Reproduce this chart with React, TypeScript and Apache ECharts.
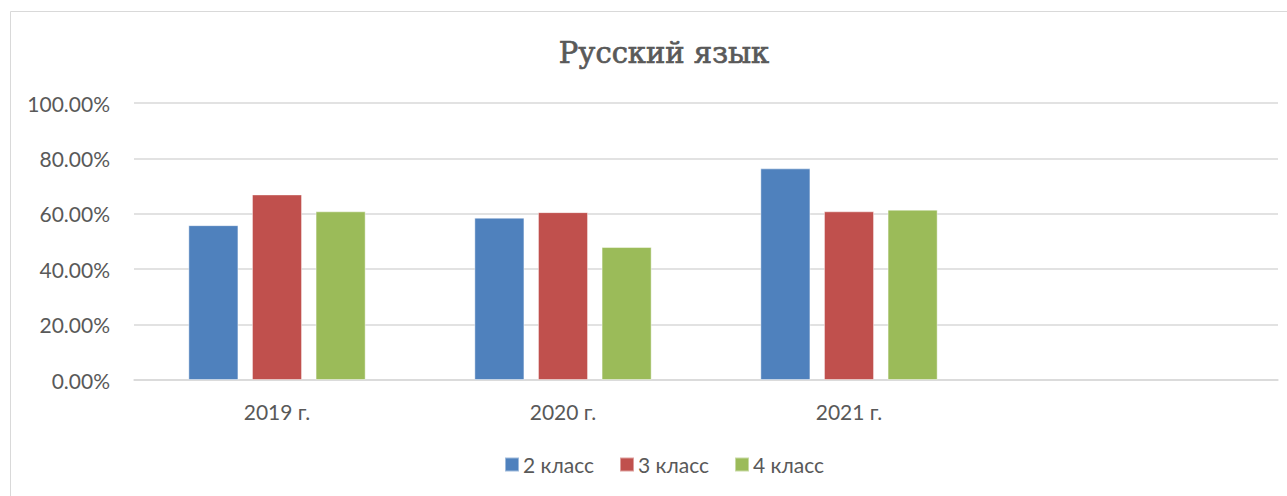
import React, { useEffect, useRef } from "react";
import * as echarts from "echarts";

const categories = ["2019 г.", "2020 г.", "2021 г.", ""];
const seriesNames = ["2 класс", "3 класс", "4 класс"];
const grade2 = [55.9, 58.6, 76.4];
const grade3 = [67.0, 60.6, 60.9];
const grade4 = [60.9, 48.0, 61.5];
const colors = ["#4F81BD", "#C0504D", "#9BBB59"];
const yTicks = { min: 0, max: 100, interval: 20 };

export default function App() {
  const ref = useRef<HTMLDivElement>(null);
  useEffect(() => {
    if (!ref.current) return;
    const chart = echarts.init(ref.current, null, { renderer: "svg" });
    const values = [grade2, grade3, grade4];
    chart.setOption({
      animation: false,
      backgroundColor: "#ffffff",
      graphic: [
        {
          type: "rect",
          shape: { x: 10.5, y: 11.5, width: 1300, height: 520 },
          style: { fill: "none", stroke: "#d9d9d9", lineWidth: 1 },
          silent: true,
          z: -1,
        },
      ],
      title: {
        text: "Русский язык",
        left: 659,
        textAlign: "center",
        top: 33,
        textStyle: {
          fontFamily: "DejaVu Serif",
          fontSize: 29,
          fontWeight: "normal",
          color: "#595959",
          textBorderColor: "#595959",
          textBorderWidth: 0.7,
        },
      },
      legend: {
        data: seriesNames,
        bottom: 16,
        left: 499,
        itemWidth: 14,
        itemHeight: 14,
        itemGap: 25,
        icon: "rect",
        textStyle: { fontFamily: "Lato", fontSize: 21, color: "#595959", padding: [0, 0, 0, -1] },
      },
      grid: { left: 134, right: 9, top: 103, bottom: 116, containLabel: false },
      xAxis: {
        type: "category",
        data: categories,
        axisLine: { lineStyle: { color: "#d9d9d9", width: 1.5 } },
        axisTick: { show: false },
        axisLabel: { fontFamily: "Lato", fontSize: 21, color: "#595959", margin: 21 },
      },
      yAxis: {
        type: "value",
        min: yTicks.min,
        max: yTicks.max,
        interval: yTicks.interval,
        axisLine: { show: false },
        axisTick: { show: false },
        splitLine: { lineStyle: { color: "#d9d9d9", width: 1.5 } },
        axisLabel: {
          fontFamily: "Lato",
          fontSize: 21,
          color: "#595959",
          margin: 24,
          formatter: (v: number) => v.toFixed(2) + "%",
        },
      },
      series: seriesNames.map((name, i) => ({
        name,
        type: "bar",
        data: values[i],
        barGap: "27%",
        barCategoryGap: "38%",
        itemStyle: {
          color: colors[i],
          borderColor: "rgba(255,255,255,0.45)",
          borderWidth: 1,
        },
      })),
    });
    return () => chart.dispose();
  }, []);
  return (
    <div
      ref={ref}
      style={{ position: "absolute", left: 0, top: 0, width: 1287, height: 496 }}
    />
  );
}
